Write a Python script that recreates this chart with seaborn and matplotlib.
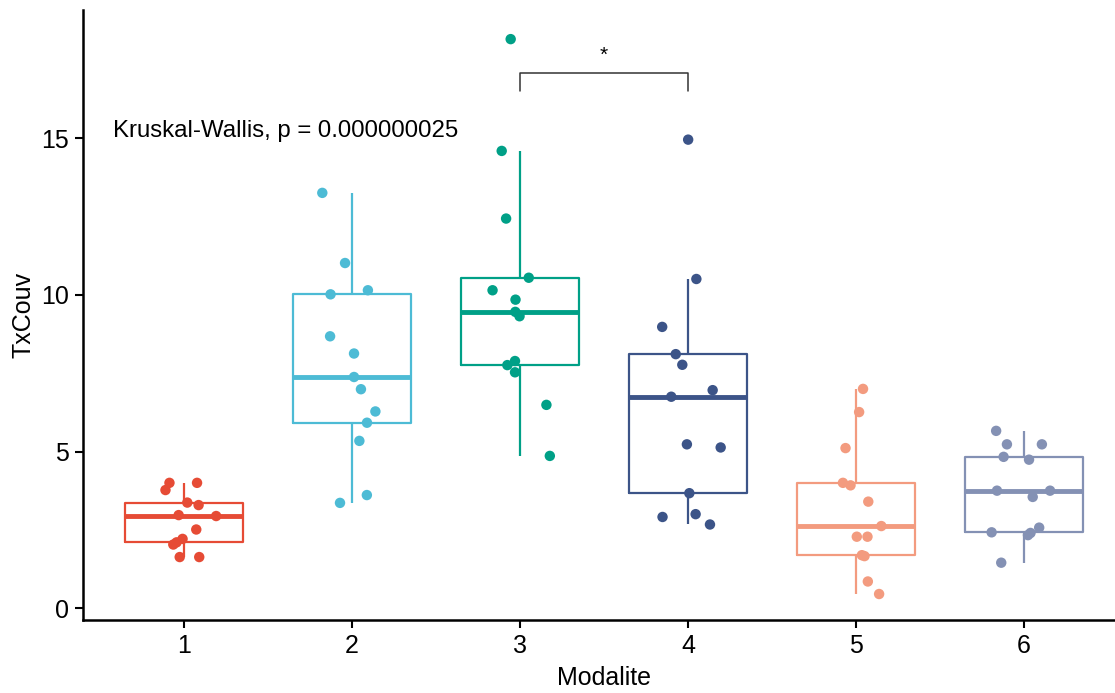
import numpy as np
import pandas as pd
import matplotlib
matplotlib.use("Agg")
import matplotlib.pyplot as plt
import seaborn as sns

# values, one list per Modalite
modalites = ["1", "2", "3", "4", "5", "6"]
g1 = [4.0, 4.0, 3.77, 3.37, 3.29, 2.97, 2.94, 2.51, 2.21, 2.10, 2.03, 1.63, 1.63]
g2 = [13.26, 11.02, 10.15, 10.02, 8.68, 8.13, 7.38, 6.99, 6.28, 5.92, 5.34, 3.61, 3.36]
g3 = [18.17, 14.6, 12.44, 10.55, 10.15, 9.85, 9.46, 9.32, 7.89, 7.76, 7.53, 6.49, 4.86]
g4 = [14.96, 10.51, 8.98, 8.11, 7.77, 6.96, 6.75, 5.23, 5.13, 3.67, 3.0, 2.91, 2.67]
g5 = [7.0, 6.26, 5.11, 4.0, 3.92, 3.4, 2.62, 2.28, 2.28, 1.69, 1.66, 0.85, 0.45]
g6 = [5.66, 5.23, 5.23, 4.83, 4.74, 3.75, 3.75, 3.55, 2.57, 2.42, 2.40, 2.33, 1.45]
groups = [g1, g2, g3, g4, g5, g6]

palette = ["#E64B35", "#4DBBD5", "#00A087", "#3C5488", "#F39B7F", "#8491B4"]
kw_label = "Kruskal-Wallis, p = 0.000000025"
signif_pair = ("3", "4")
signif_label = "*"

df = pd.DataFrame({
    "Modalite": np.repeat(modalites, [len(g) for g in groups]),
    "TxCouv": np.concatenate(groups),
})

sns.set_style("white")
plt.rcParams["font.family"] = ["Liberation Sans", "DejaVu Sans"]
plt.rcParams["text.color"] = "black"

fig = plt.figure(figsize=(11.15, 6.93), dpi=100)
ax = fig.add_axes([83 / 1115, 73 / 693, 1042 / 1115, 610 / 693])

sns.boxplot(data=df, x="Modalite", y="TxCouv", hue="Modalite", palette=palette,
            order=modalites, hue_order=modalites, legend=False, fill=False,
            width=0.7, showfliers=False, showcaps=False, linewidth=1.6,
            medianprops={"linewidth": 3.5}, ax=ax)
np.random.seed(123)
sns.stripplot(data=df, x="Modalite", y="TxCouv", hue="Modalite", palette=palette,
              order=modalites, hue_order=modalites, legend=False, jitter=0.2,
              size=7.5, linewidth=0, ax=ax)

# comparison bracket between 3 and 4
i3, i4 = modalites.index(signif_pair[0]), modalites.index(signif_pair[1])
ax.plot([i3, i3, i4, i4], [16.5, 17.08, 17.08, 16.5], color="#333333", lw=1.1)
ax.text((i3 + i4) / 2, 17.35, signif_label, ha="center", va="bottom", fontsize=15)

ax.text(-0.42, 15.25, kw_label, ha="left", va="center", fontsize=17.3)

ax.set_xlim(-0.6, 5.6)
ax.set_ylim(-0.38, 19.1)
ax.set_yticks([0, 5, 10, 15])
ax.set_xlabel("Modalite", fontsize=18, color="black", labelpad=6)
ax.set_ylabel("TxCouv", fontsize=18, color="black", labelpad=4)
ax.tick_params(axis="both", labelsize=18, length=6, width=1.5, direction="out",
               color="black", labelcolor="black", bottom=True, left=True, pad=4)
sns.despine(ax=ax)
for s in ["left", "bottom"]:
    ax.spines[s].set_linewidth(1.8)
    ax.spines[s].set_color("black")

fig.savefig("out.png", dpi=100)
